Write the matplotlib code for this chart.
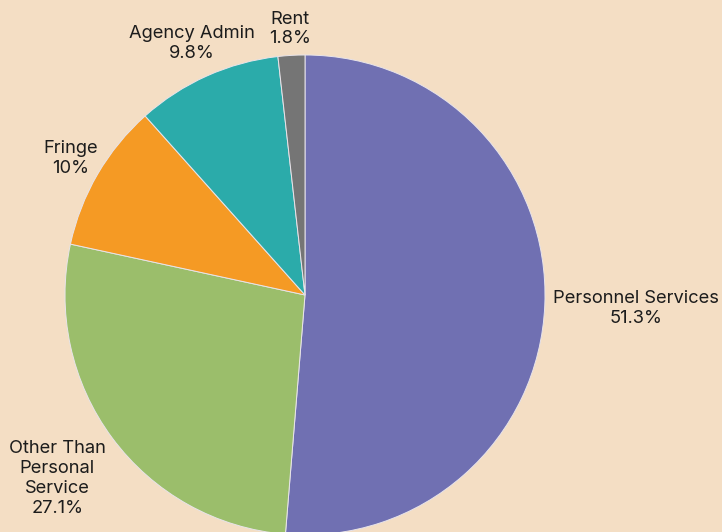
import numpy as np
import matplotlib.pyplot as plt

labels = ['Personnel Services', 'Other Than\nPersonal\nService', 'Fringe', 'Agency Admin', 'Rent']
pct_labels = ['51.3%', '27.1%', '10%', '9.8%', '1.8%']
values = [51.3, 27.1, 10.0, 9.8, 1.8]
colors = ['#7070b2', '#9bbe6b', '#f59a24', '#2babaa', '#757575']
label_dist = [1.38, 1.285, 1.13, 1.15, 1.11]

bg = '#f4dec4'
plt.rcParams['font.family'] = ['Inter', 'DejaVu Sans']

fig = plt.figure(figsize=(7.22, 5.32), dpi=100, facecolor=bg)
ax = fig.add_axes([0, 0, 1, 1])
ax.set_facecolor(bg)

cx, cy, r = 305, 237, 240
wedges, _ = ax.pie(values, colors=colors, startangle=90, counterclock=False,
                   center=(cx, cy), radius=r, frame=True,
                   wedgeprops=dict(edgecolor='#e8e4ea', linewidth=0.7))
ax.set_xlim(0, 722)
ax.set_ylim(0, 532)
ax.set_aspect('equal')
ax.axis('off')

for w, lab, pct, d in zip(wedges, labels, pct_labels, label_dist):
    ang = np.deg2rad((w.theta1 + w.theta2) / 2)
    x = cx + d * r * np.cos(ang)
    y = cy + d * r * np.sin(ang)
    ax.text(x, y, f'{lab}\n{pct}', ha='center', va='center', fontsize=13.2,
            color='#1c1c1c', linespacing=1.22)

fig.savefig('out.png', dpi=100, facecolor=bg)
